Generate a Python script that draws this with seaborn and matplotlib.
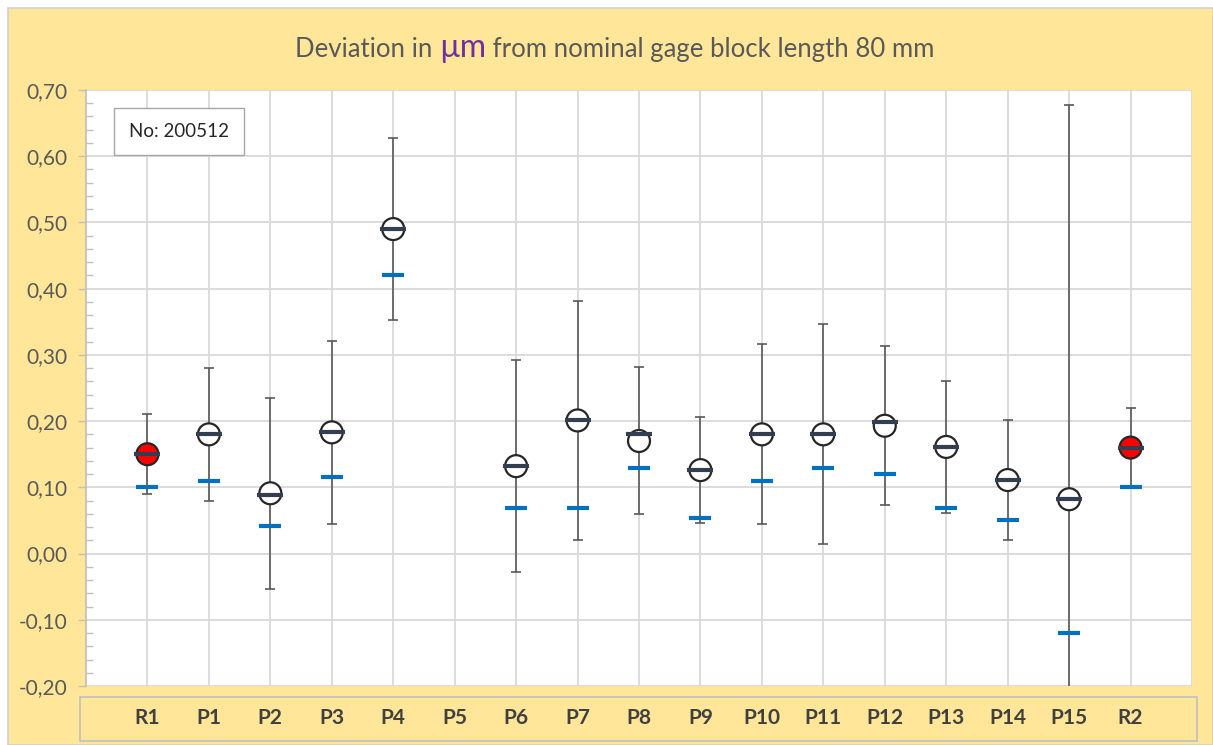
import numpy as np
import pandas as pd
import seaborn as sns
import matplotlib.pyplot as plt
from matplotlib.patches import Rectangle
from matplotlib.ticker import MultipleLocator, FuncFormatter

# data (values in micrometre)
labels = ["R1", "P1", "P2", "P3", "P4", "P5", "P6", "P7", "P8", "P9",
          "P10", "P11", "P12", "P13", "P14", "P15", "R2"]
circle = [0.150, 0.180, 0.091, 0.183, 0.490, np.nan, 0.132, 0.201, 0.170, 0.126,
          0.180, 0.180, 0.193, 0.161, 0.111, 0.082, 0.160]
uncert = [0.060, 0.100, 0.144, 0.138, 0.137, np.nan, 0.160, 0.180, 0.111, 0.080,
          0.136, 0.166, 0.120, 0.100, 0.090, 0.595, 0.060]
mark = [0.150, 0.180, 0.088, 0.183, 0.490, np.nan, 0.132, 0.201, 0.180, 0.126,
        0.180, 0.180, 0.198, 0.161, 0.111, 0.082, 0.160]
ref = [0.100, 0.110, 0.041, 0.116, 0.420, np.nan, 0.069, 0.069, 0.129, 0.053,
       0.110, 0.129, 0.120, 0.069, 0.050, -0.120, 0.100]
kind = ["R" if l.startswith("R") else "P" for l in labels]

df = pd.DataFrame({"pos": np.arange(len(labels)), "label": labels, "circle": circle,
                   "U": uncert, "mark": mark, "ref": ref, "kind": kind})

yellow = "#FFE699"
grey_txt = "#595959"
grid_c = "#D9D9D9"

sns.set_theme(style="white")
plt.rcParams['font.family'] = ['Lato', 'DejaVu Sans']

fig = plt.figure(figsize=(12.13, 7.45), dpi=100)
fig.patch.set_facecolor("white")
fig.patches.append(Rectangle((8 / 1213, 0), 1 - 8 / 1213, 1 - 8 / 745, transform=fig.transFigure,
                             facecolor=yellow, edgecolor="#D0D0D0", lw=1.2, zorder=-10))

ax = fig.add_axes([86 / 1213, 59 / 745, 1106 / 1213, 596 / 745])
ax.set_facecolor("white")

# error bars
ax.errorbar(df["pos"], df["circle"], yerr=df["U"], fmt="none", ecolor=grey_txt,
            elinewidth=1.2, capsize=3.3, capthick=1.2, zorder=3)

sns.scatterplot(data=df, x="pos", y="circle", hue="kind", palette={"P": "white", "R": "#FF0000"},
                s=250, edgecolor="#262626", linewidth=1.6, legend=False, ax=ax, zorder=4)
sns.scatterplot(data=df, x="pos", y="mark", marker="_", s=340, color="#333F50",
                linewidth=3.0, legend=False, ax=ax, zorder=5)
sns.scatterplot(data=df, x="pos", y="ref", marker="_", s=230, color="#0070C0",
                linewidth=3.0, legend=False, ax=ax, zorder=5)

ax.set_xlim(-1, 17)
ax.set_ylim(-0.20, 0.70)
ax.set_xlabel("")
ax.set_ylabel("")
ax.set_xticks(np.arange(0, 18))
ax.tick_params(axis="x", length=0, labelbottom=False)
ax.yaxis.set_major_locator(MultipleLocator(0.1))
ax.yaxis.set_minor_locator(MultipleLocator(0.02))
ax.yaxis.set_major_formatter(FuncFormatter(lambda v, p: f"{v:.2f}".replace(".", ",").replace("-0,00", "0,00")))
ax.tick_params(axis="y", which="major", left=True, direction="out", length=6, width=1,
               color="#BFBFBF", labelsize=15, labelcolor=grey_txt, pad=7)
ax.tick_params(axis="y", which="minor", left=True, direction="in", length=5, width=1, color="#BFBFBF")
ax.grid(True, which="major", color=grid_c, lw=1.3, zorder=0)
ax.set_axisbelow(True)
for s in ["top", "right", "bottom"]:
    ax.spines[s].set_visible(False)
ax.spines["left"].set_color("#BFBFBF")
ax.spines["left"].set_linewidth(1.2)

# sample number box
ax.text(0.0845, 0.93, "No: 200512", transform=ax.transAxes, ha="center", va="center",
        fontsize=13.5, color="#262626",
        bbox=dict(boxstyle="square,pad=0.8", facecolor="white", edgecolor="#A6A6A6", lw=1))

# category label box under the plot
fig.patches.append(Rectangle((80 / 1213, 4 / 745), 1117 / 1213, 44 / 745, transform=fig.transFigure,
                             facecolor=yellow, edgecolor="#BFBFBF", lw=1.2, zorder=-5))
for p, l in zip(df["pos"], df["label"]):
    xf = ax.transData.transform((p, 0))[0] / fig.bbox.width
    fig.text(xf, 27 / 745, l, ha="center", va="center", fontsize=15, fontweight="bold", color="#404040")

# title with coloured unit
parts = [("Deviation in ", grey_txt, 18.5), ("µm", "#7030A0", 23), (" from nominal gage block length 80 mm", grey_txt, 18.5)]
r = fig.canvas.get_renderer()
texts = []
for s, c, fs in parts:
    t = fig.text(0, 688 / 745, s, color=c, fontsize=fs, ha="left", va="baseline")
    texts.append(t)
widths = [t.get_window_extent(r).width for t in texts]
x = (fig.bbox.width - sum(widths)) / 2 + 8
for t, w in zip(texts, widths):
    t.set_x(x / fig.bbox.width)
    x += w

fig.savefig("out.png", dpi=100)
